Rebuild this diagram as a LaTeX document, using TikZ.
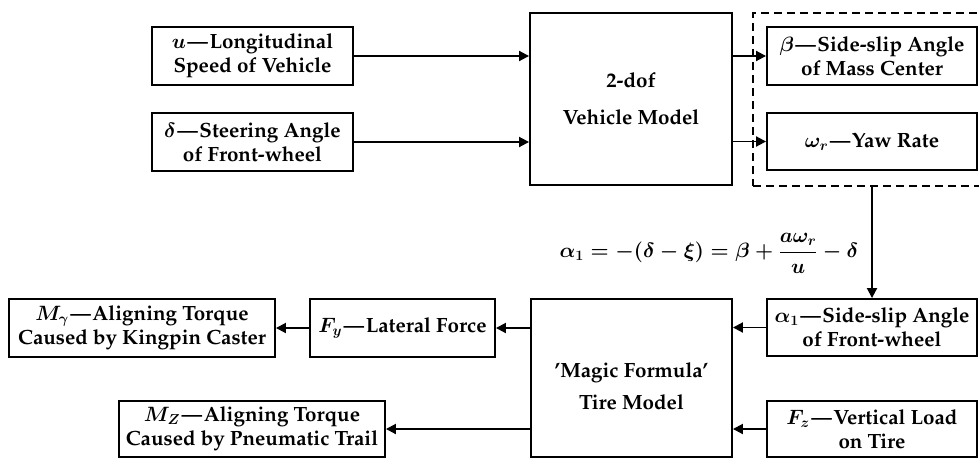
\documentclass[tikz,border=0pt]{standalone}
\usepackage[T1]{fontenc}
\renewcommand{\rmdefault}{ppl}
\usepackage{amsmath,amssymb}
\usetikzlibrary{arrows.meta}
\newcommand{\dsh}{\kern1.5pt---\kern1.5pt}
\begin{document}
\begin{tikzpicture}[x=1pt,y=-1pt,
  every node/.style={font=\fontsize{20.6}{24}\selectfont\bfseries\boldmath},
  blk/.style={draw,line width=1.9pt,align=center,inner sep=0pt},
  grpbox/.style={draw,line width=1.9pt,dash pattern=on 8pt off 5pt,inner sep=0pt},
  arr/.style={line width=1.9pt,-{Triangle[length=10pt,width=10pt]}}]
\useasboundingbox (0,0) rectangle (979,459);
\clip (0,0) rectangle (979,459);
% group (dashed)
\node[grpbox,minimum width=240pt,minimum height=173pt] (grp) at (873,99.5) {};
% top row
\node[blk,minimum width=201pt,minimum height=58pt] (u) at (252.5,56) {$u$\dsh Longitudinal\\Speed of Vehicle};
\node[blk,minimum width=201pt,minimum height=58pt] (d) at (252.5,142) {$\delta$\dsh Steering Angle\\of Front-wheel};
\node[blk,minimum width=202pt,minimum height=172pt] (veh) at (631,99) {2-dof\\[13pt]Vehicle Model};
\node[blk,minimum width=210pt,minimum height=58pt] (beta) at (872,56) {$\beta$\dsh Side-slip Angle\\of Mass Center};
\node[blk,minimum width=210pt,minimum height=57pt] (om) at (872,141.5) {$\omega_r$\dsh Yaw Rate};
% formula
\node (eq) at (709,253) {$\displaystyle \alpha_1 = -(\delta-\xi) = \beta + \frac{a\omega_r}{u} - \delta$};
% bottom row
\node[blk,minimum width=210pt,minimum height=57pt] (al) at (872,327.5) {$\alpha_1$\dsh Side-slip Angle\\of Front-wheel};
\node[blk,minimum width=210pt,minimum height=56pt] (fz) at (872,429) {$F_z$\dsh Vertical Load\\on Tire};
\node[blk,minimum width=201pt,minimum height=158pt,
  label={[align=center,yshift=-8pt]center:\textquoteright Magic Formula\textquoteright\\[8pt]Tire Model}] (tire) at (631.5,378) {};
\node[blk,minimum width=185pt,minimum height=58pt] (fy) at (402.5,328) {$F_y$\dsh Lateral Force};
\node[blk,minimum width=266pt,minimum height=58pt] (mg) at (142,328) {$M_\gamma$\dsh Aligning Torque\\Caused by Kingpin Caster};
\node[blk,minimum width=266pt,minimum height=56pt] (mz) at (252,429) {$M_Z$\dsh Aligning Torque\\Caused by Pneumatic Trail};
% connectors
\draw[arr] (u.east) -- (u.east -| veh.west);
\draw[arr] (d.east) -- (d.east -| veh.west);
\draw[arr] (veh.east |- beta.west) -- (beta.west);
\draw[arr] (veh.east |- om.west) -- (om.west);
\draw[arr] (grp.south -| al.north) -- (al.north);
\draw[arr] (al.west) -- (al.west -| tire.east);
\draw[arr] (fz.west) -- (fz.west -| tire.east);
\draw[arr] (tire.west |- fy.east) -- (fy.east);
\draw[arr] (fy.west) -- (mg.east);
\draw[arr] (tire.west |- mz.east) -- (mz.east);
\end{tikzpicture}
\end{document}
